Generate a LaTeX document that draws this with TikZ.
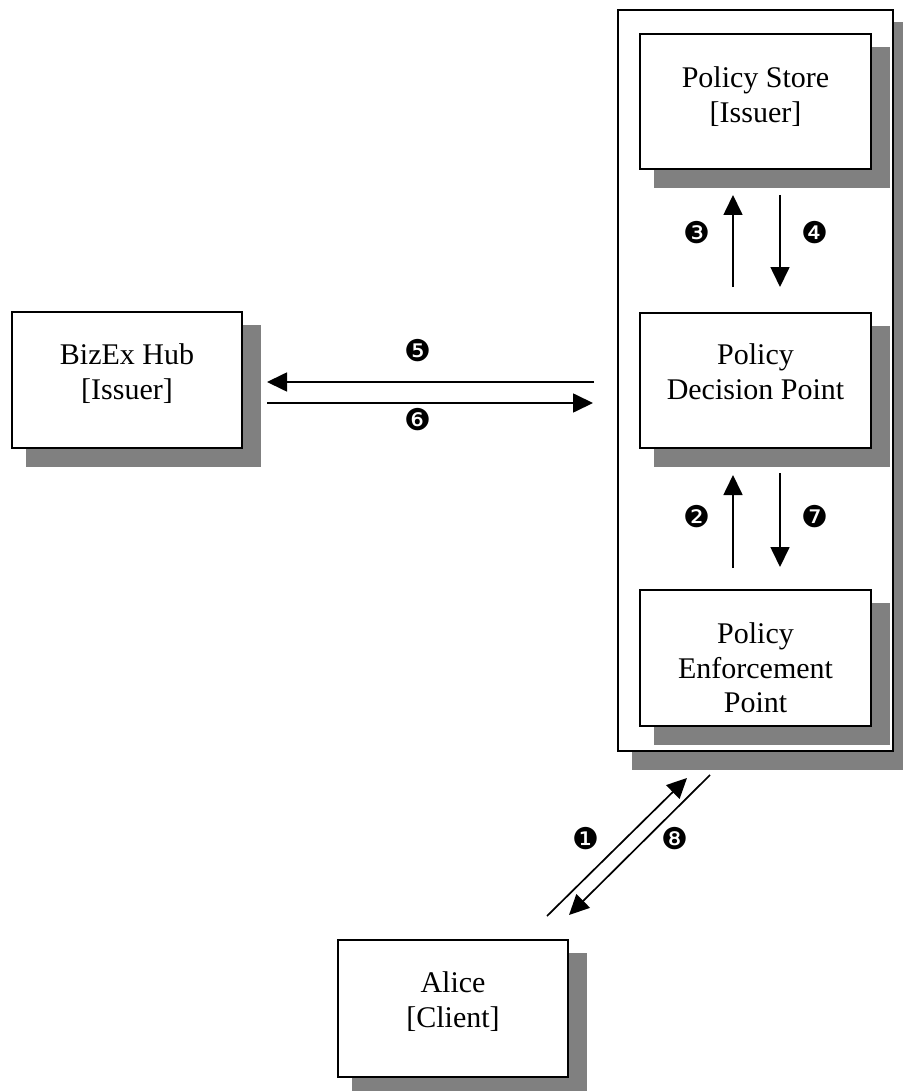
\documentclass[tikz,border=0pt]{standalone}
\usepackage{fontspec}
\setmainfont{Liberation Serif}
\newfontfamily\dingfont{DejaVu Sans}
\usetikzlibrary{arrows.meta}
\definecolor{shadowc}{HTML}{808080}
\tikzset{
  boxst/.style={draw=black, line width=2pt, fill=white, inner sep=0pt, outer sep=0pt, anchor=north west},
  shad/.style={fill=shadowc},
  txt/.style={font=\fontsize{30}{35}\selectfont, align=center, inner sep=0pt, anchor=north},
  num/.style={font=\dingfont\fontsize{30}{30}\selectfont, inner sep=0pt},
  arr/.style={line width=1.7pt, -{Triangle[length=20pt,width=19pt]}},
}
\begin{document}
\begin{tikzpicture}[x=1pt,y=-1pt]
\useasboundingbox (0,0) rectangle (902,1091);
% container
\fill[shad] (632,22) rectangle (912,770);
\node[boxst, minimum width=275pt, minimum height=741pt] (cont) at (618,10) {};
% Policy Store
\fill[shad] (654,47) rectangle (890,188);
\node[boxst, minimum width=231pt, minimum height=135pt] (ps) at (640,34) {};
\node[txt] (pstx) at (755.5,66.6) {Policy Store\\{[Issuer]}};
% Policy Decision Point
\fill[shad] (654,326) rectangle (890,467);
\node[boxst, minimum width=231pt, minimum height=135pt] (pdp) at (640,313) {};
\node[txt] (pdptx) at (755.5,343.6) {Policy\\Decision Point};
% Policy Enforcement Point
\fill[shad] (654,603) rectangle (890,745);
\node[boxst, minimum width=231pt, minimum height=136pt] (pep) at (640,590) {};
\node[txt, font=\fontsize{30}{34.5}\selectfont] (peptx) at (755.5,622.6) {Policy\\Enforcement\\Point};
% BizEx Hub
\fill[shad] (26,325) rectangle (261,467);
\node[boxst, minimum width=230pt, minimum height=136pt] (hub) at (12,312) {};
\node[txt] (hubtx) at (127,343.6) {BizEx Hub\\{[Issuer]}};
% Alice
\fill[shad] (352,953) rectangle (587,1096);
\node[boxst, minimum width=230pt, minimum height=137pt] (alice) at (338,940) {};
\node[txt] (alicetx) at (453,971.6) {Alice\\{[Client]}};
% arrow end points
\coordinate (a3s) at (733,287); \coordinate (a3e) at (733,195);
\coordinate (a4s) at (780,195); \coordinate (a4e) at (780,287);
\coordinate (a2s) at (733,568); \coordinate (a2e) at (733,475);
\coordinate (a7s) at (780,473); \coordinate (a7e) at (780,567);
\coordinate (a5s) at (594,382); \coordinate (a5e) at (267,382);
\coordinate (a6s) at (267,403); \coordinate (a6e) at (593,403);
\coordinate (a1s) at (547,916); \coordinate (a1e) at (687,778);
\coordinate (a8s) at (710,775); \coordinate (a8e) at (569,915);
\draw[arr] (a3s) -- (a3e);
\draw[arr] (a4s) -- (a4e);
\draw[arr] (a2s) -- (a2e);
\draw[arr] (a7s) -- (a7e);
\draw[arr] (a5s) -- (a5e);
\draw[arr] (a6s) -- (a6e);
\draw[arr] (a1s) -- (a1e);
\draw[arr] (a8s) -- (a8e);
% step numbers
\node[num] (n1) at (586,839) {❶};
\node[num] (n2) at (697,517) {❷};
\node[num] (n3) at (697,233) {❸};
\node[num] (n4) at (815,233) {❹};
\node[num] (n5) at (418,351) {❺};
\node[num] (n6) at (418,420) {❻};
\node[num] (n7) at (815,517) {❼};
\node[num] (n8) at (675,839) {❽};
\end{tikzpicture}
\end{document}
